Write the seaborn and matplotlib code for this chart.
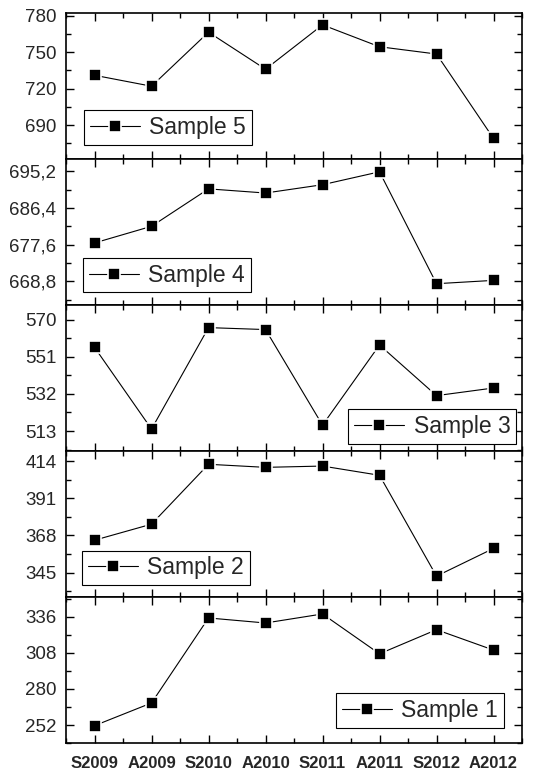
import matplotlib
matplotlib.use("Agg")
import matplotlib.pyplot as plt
from matplotlib.ticker import FixedLocator, MultipleLocator, FuncFormatter
import seaborn as sns
import pandas as pd

# Sampling campaigns (S = spring, A = autumn)
seasons = ["S2009", "A2009", "S2010", "A2010", "S2011", "A2011", "S2012", "A2012"]

sample5 = [731, 722, 766.5, 736, 772.5, 754.5, 748.5, 679]
sample4 = [678.0, 682.0, 691.0, 690.0, 692.0, 695.1, 668.2, 669.0]
sample3 = [555.8, 514.0, 565.9, 564.9, 516.0, 557.0, 531.1, 535.0]
sample2 = [365.1, 375.0, 412.0, 410.1, 410.9, 405.2, 342.9, 360.0]
sample1 = [251.5, 269.1, 335.0, 331.1, 338.1, 307.2, 325.9, 310.1]

series_names = ["Sample 5", "Sample 4", "Sample 3", "Sample 2", "Sample 1"]
series_values = [sample5, sample4, sample3, sample2, sample1]

yticks = [
    [690, 720, 750, 780],
    [668.8, 677.6, 686.4, 695.2],
    [513, 532, 551, 570],
    [345, 368, 391, 414],
    [252, 280, 308, 336],
]
ylims = [(661.8, 782), (663.0, 698.1), (502.6, 577.3), (329.8, 420.0), (237.8, 351.0)]
# legend anchor in axes coordinates (x, y of the anchored corner)
legend_anchor = [(0.039, 0.099), (0.037, 0.089), (0.987, 0.053), (0.035, 0.084), (0.96, 0.107)]

sns.set_style("ticks")
plt.rcParams["font.family"] = ["Liberation Sans", "DejaVu Sans"]

fig, axes = plt.subplots(5, 1, figsize=(5.47, 7.71), dpi=100, sharex=True)
fig.subplots_adjust(left=0.1207, right=0.9543, top=0.9827, bottom=0.0359, hspace=0)

positions = list(range(len(seasons)))

for i, ax in enumerate(axes):
    df = pd.DataFrame({"pos": positions, "value": series_values[i]})
    sns.lineplot(data=df, x="pos", y="value", ax=ax, color="black", lw=0.8,
                 marker="s", markersize=8.6, markerfacecolor="black",
                 markeredgecolor="white", markeredgewidth=1.2,
                 label=series_names[i])
    ax.set_xlim(-0.5, 7.5)
    ax.set_ylim(*ylims[i])
    step = yticks[i][1] - yticks[i][0]
    ax.yaxis.set_major_locator(FixedLocator(yticks[i]))
    ax.yaxis.set_minor_locator(MultipleLocator(step / 2))
    if i == 1:
        ax.yaxis.set_major_formatter(FuncFormatter(lambda v, p: f"{v:.1f}".replace(".", ",")))
    else:
        ax.yaxis.set_major_formatter(FuncFormatter(lambda v, p: f"{v:.0f}"))
    ax.xaxis.set_major_locator(FixedLocator(positions))
    ax.xaxis.set_minor_locator(MultipleLocator(0.5))
    ax.set_xlabel("")
    ax.set_ylabel("")
    for s in ax.spines.values():
        s.set_visible(True)
        s.set_linewidth(1.2)
        s.set_color("black")
    ax.tick_params(which="both", direction="in", top=True, right=True,
                   bottom=True, left=True, color="black", width=1.0)
    ax.tick_params(which="major", length=6)
    ax.tick_params(which="minor", length=3.5)
    ax.tick_params(axis="y", labelsize=13.5, pad=7)

    x0, y0 = legend_anchor[i]
    loc = "lower right" if x0 > 0.5 else "lower left"
    leg = ax.legend(loc=loc, bbox_to_anchor=(x0, y0), borderaxespad=0,
                    frameon=True, fancybox=False, framealpha=1, edgecolor="black",
                    fontsize=16.5, handlelength=2.2, handletextpad=0.4,
                    borderpad=0.25, markerscale=0.95)
    leg.get_frame().set_linewidth(0.8)

axes[-1].set_xticks(positions)
axes[-1].set_xticklabels(seasons, fontsize=12, fontweight="bold")
axes[-1].tick_params(axis="x", pad=9)

fig.savefig("out.png", dpi=100)
